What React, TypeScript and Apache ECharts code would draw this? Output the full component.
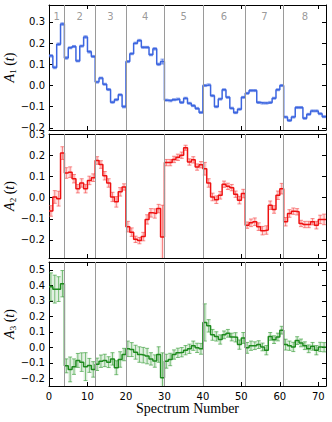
import React, { useEffect, useRef } from "react";
import * as echarts from "echarts";

// ---- data ----
const X_MIN = 0;
const X_MAX = 72;
const X_INTERVAL = 10;
const SEPARATORS = [4, 12, 20, 30, 40, 51, 61];
const SEGMENT_LABELS = ["1", "2", "3", "4", "5", "6", "7", "8"];

const A1 = [
  0.14, 0.085, 0.195, 0.29,
  0.13, 0.178, 0.184, 0.116, 0.186, 0.229, 0.159, 0.137,
  0.016, 0.035, 0.006, -0.019, -0.079, -0.067, -0.044, -0.1,
  0.113, 0.15, 0.2, 0.213, 0.18, 0.18, 0.145, 0.173, 0.1, 0.113,
  -0.069, -0.072, -0.067, -0.064, -0.08, -0.06, -0.084, -0.095, -0.108, -0.127,
  0.0, 0.003, -0.048, -0.1, -0.064, -0.02, -0.056, -0.107, -0.128, -0.112, -0.056,
  -0.037, -0.024, -0.024, -0.08, -0.083, -0.083, -0.08, -0.06, -0.02, 0.0,
  -0.149, -0.165, -0.149, -0.104, -0.104, -0.155, -0.136, -0.12, -0.12, -0.133, -0.147,
];
const A1_ERR = [
  0.006, 0.006, 0.006, 0.006,
  0.006, 0.005, 0.005, 0.005, 0.005, 0.006, 0.006, 0.005,
  0.005, 0.005, 0.005, 0.005, 0.005, 0.005, 0.005, 0.006,
  0.005, 0.005, 0.005, 0.005, 0.005, 0.005, 0.005, 0.006, 0.006, 0.012,
  0.005, 0.005, 0.005, 0.005, 0.005, 0.005, 0.005, 0.005, 0.005, 0.005,
  0.005, 0.005, 0.005, 0.005, 0.005, 0.005, 0.005, 0.005, 0.005, 0.005, 0.005,
  0.005, 0.005, 0.005, 0.005, 0.005, 0.005, 0.005, 0.005, 0.005, 0.005,
  0.005, 0.005, 0.005, 0.005, 0.005, 0.005, 0.005, 0.005, 0.005, 0.005, 0.005,
];

const A2 = [
  -0.063, 0.003, -0.005, 0.21,
  0.116, 0.12, 0.089, 0.042, 0.069, 0.042, 0.081, 0.094,
  0.175, 0.156, 0.103, 0.069, 0.003, -0.02, 0.027, 0.05,
  -0.137, -0.163, -0.197, -0.203, -0.184, -0.103, -0.072, -0.075, -0.052, -0.186,
  0.165, 0.165, 0.18, 0.19, 0.2, 0.235, 0.168, 0.178, 0.144, 0.155,
  0.136, 0.069, 0.003, -0.01, 0.011, 0.063, 0.053, 0.047, 0.016, -0.012, 0.019,
  -0.13, -0.119, -0.114, -0.137, -0.156, -0.153, -0.036, -0.056, 0.011, 0.042,
  -0.114, -0.075, -0.064, -0.067, -0.122, -0.127, -0.127, -0.114, -0.13, -0.103, -0.103,
];
const A2_ERR = [
  0.025, 0.03, 0.035, 0.03,
  0.025, 0.025, 0.02, 0.02, 0.02, 0.02, 0.02, 0.018,
  0.018, 0.018, 0.02, 0.02, 0.022, 0.025, 0.02, 0.015,
  0.025, 0.02, 0.015, 0.015, 0.02, 0.022, 0.02, 0.022, 0.02, 0.15,
  0.015, 0.015, 0.015, 0.015, 0.015, 0.012, 0.015, 0.015, 0.015, 0.015,
  0.03, 0.02, 0.018, 0.018, 0.018, 0.015, 0.015, 0.015, 0.015, 0.018, 0.02,
  0.015, 0.018, 0.018, 0.018, 0.02, 0.02, 0.02, 0.018, 0.02, 0.025,
  0.02, 0.018, 0.015, 0.015, 0.015, 0.015, 0.015, 0.015, 0.018, 0.02, 0.025,
];

const A3 = [
  0.39, 0.375, 0.375, 0.41,
  -0.12, -0.143, -0.125, -0.085, -0.096, -0.125, -0.117, -0.143,
  -0.11, -0.09, -0.085, -0.096, -0.075, -0.132, -0.079, -0.047,
  -0.01, -0.015, -0.032, -0.047, -0.051, -0.057, -0.075, -0.089, -0.047, -0.196,
  -0.09, -0.079, -0.047, -0.036, -0.032, -0.019, -0.01, 0.01, -0.004, -0.01,
  0.16, 0.138, 0.08, 0.07, 0.05, 0.08, 0.09, 0.066, 0.064, 0.017, 0.06,
  -0.004, 0.01, 0.01, 0.017, 0.002, -0.019, 0.07, 0.049, 0.066, 0.11,
  0.017, 0.01, 0.002, 0.043, 0.028, 0.01, -0.01, 0.006, -0.019, 0.002, 0.0,
];
const A3_ERR = [
  0.09, 0.09, 0.08, 0.085,
  0.045, 0.08, 0.05, 0.045, 0.06, 0.09, 0.045, 0.05,
  0.04, 0.04, 0.04, 0.035, 0.04, 0.045, 0.05, 0.04,
  0.05, 0.045, 0.045, 0.05, 0.05, 0.05, 0.04, 0.04, 0.05, 0.16,
  0.045, 0.04, 0.03, 0.03, 0.03, 0.03, 0.03, 0.03, 0.03, 0.035,
  0.12, 0.04, 0.035, 0.03, 0.03, 0.025, 0.025, 0.025, 0.03, 0.03, 0.035,
  0.035, 0.03, 0.025, 0.025, 0.025, 0.03, 0.025, 0.025, 0.025, 0.025,
  0.035, 0.03, 0.03, 0.025, 0.025, 0.025, 0.025, 0.025, 0.03, 0.03, 0.03,
];

const Y_RANGES = [
  [-0.21, 0.38],
  [-0.285, 0.3],
  [-0.25, 0.55],
];
const Y_SPLITS = [6, 6, 8];
const Y_NAMES = ["1", "2", "3"];

// ---- styles ----
const PANELS = [
  { line: "#3d66e0", band: "rgba(65,105,225,0.3)", bar: "rgba(65,105,225,0.5)" },
  { line: "#ee1111", band: "rgba(255,40,40,0.14)", bar: "rgba(245,70,70,0.6)" },
  { line: "#1d8a1d", band: "rgba(40,150,40,0.14)", bar: "rgba(60,160,60,0.65)" },
];
const GRIDS = [
  { left: 49, width: 277, top: 5, height: 125, outerBoundsMode: "none", containLabel: false },
  { left: 49, width: 277, top: 134, height: 124, outerBoundsMode: "none", containLabel: false },
  { left: 49, width: 277, top: 262, height: 124, outerBoundsMode: "none", containLabel: false },
];
const TICK_FONT = "DejaVu Sans";
const SERIF = "Liberation Serif";

function fmt(v: number) {
  if (Math.abs(v) < 1e-9) return "0.0";
  return v.toFixed(1).replace("-", "\u2212");
}

function errorRenderer(band: string, bar: string) {
  return (params: any, api: any) => {
    const t = api.value(0);
    const v = api.value(1);
    const e = api.value(2);
    const p0 = api.coord([t, v + e]);
    const p1 = api.coord([t + 1, v - e]);
    const cs = params.coordSys;
    const xL = p0[0];
    const xR = p1[0];
    const yT = p0[1];
    const yB = p1[1];
    const xc = (xL + xR) / 2;
    const top = cs.y;
    const bot = cs.y + cs.height;
    const children: any[] = [];
    const rect = echarts.graphic.clipRectByRect(
      { x: xL, y: yT, width: xR - xL, height: yB - yT },
      { x: cs.x, y: cs.y, width: cs.width, height: cs.height }
    );
    if (rect) children.push({ type: "rect", shape: rect, style: { fill: band } });
    const y1 = Math.max(yT, top);
    const y2 = Math.min(yB, bot);
    if (y2 > y1)
      children.push({ type: "line", shape: { x1: xc, y1, x2: xc, y2 }, style: { stroke: bar, lineWidth: 1 } });
    if (yT >= top)
      children.push({ type: "line", shape: { x1: xc - 2, y1: yT, x2: xc + 2, y2: yT }, style: { stroke: bar, lineWidth: 1 } });
    if (yB <= bot)
      children.push({ type: "line", shape: { x1: xc - 2, y1: yB, x2: xc + 2, y2: yB }, style: { stroke: bar, lineWidth: 1 } });
    return { type: "group", children };
  };
}

export default function App() {
  const ref = useRef<HTMLDivElement>(null);

  useEffect(() => {
    document.body.style.margin = "0";
    if (!ref.current) return;
    const chart = echarts.init(ref.current, null, { renderer: "svg" });

    const values = [A1, A2, A3];
    const errs = [A1_ERR, A2_ERR, A3_ERR];

    const axisLineStyle = { color: "#000", width: 1 };
    const xAxes: any[] = [];
    const yAxes: any[] = [];
    const series: any[] = [];

    GRIDS.forEach((_, g) => {
      const isLast = g === GRIDS.length - 1;
      xAxes.push({
        type: "value",
        gridIndex: g,
        min: X_MIN,
        max: X_MAX,
        interval: X_INTERVAL,
        position: "bottom",
        axisLine: { show: true, onZero: false, lineStyle: axisLineStyle },
        axisTick: { show: true, inside: true, length: 4, lineStyle: axisLineStyle },
        axisLabel: {
          show: isLast,
          color: "#000",
          fontFamily: TICK_FONT,
          fontSize: 10,
          margin: 5,
          showMaxLabel: false,
        },
        splitLine: { show: false },
        name: isLast ? "Spectrum Number" : "",
        nameLocation: "middle",
        nameGap: 15,
        nameMoveOverlap: false,
        nameTextStyle: { fontFamily: SERIF, fontSize: 14, color: "#000", verticalAlign: "top" },
      });
      xAxes.push({
        type: "value",
        gridIndex: g,
        min: X_MIN,
        max: X_MAX,
        interval: X_INTERVAL,
        position: "top",
        axisLine: { show: true, onZero: false, lineStyle: axisLineStyle },
        axisTick: { show: true, inside: true, length: 4, lineStyle: axisLineStyle },
        axisLabel: { show: false },
        splitLine: { show: false },
      });
      const [ymin, ymax] = Y_RANGES[g];
      yAxes.push({
        type: "value",
        gridIndex: g,
        min: ymin,
        max: ymax,
        splitNumber: Y_SPLITS[g],
        position: "left",
        axisLine: { show: true, onZero: false, lineStyle: axisLineStyle },
        axisTick: { show: true, inside: true, length: 4, lineStyle: axisLineStyle },
        axisLabel: {
          color: "#000",
          fontFamily: TICK_FONT,
          fontSize: 10,
          margin: 4,
          formatter: fmt,
          showMinLabel: false,
          showMaxLabel: g === 1,
        },
        splitLine: { show: false },
        name: `{a|A}{s|${Y_NAMES[g]}}{p| (}{a|t}{p|)}`,
        nameLocation: "middle",
        nameGap: 32,
        nameMoveOverlap: false,
        nameTextStyle: {
          rich: {
            a: { fontFamily: SERIF, fontStyle: "italic", fontSize: 14, lineHeight: 16, color: "#000" },
            s: { fontFamily: SERIF, fontSize: 9, lineHeight: 10, verticalAlign: "bottom", color: "#000" },
            p: { fontFamily: SERIF, fontSize: 14, lineHeight: 16, color: "#000" },
          },
        },
      });
      yAxes.push({
        type: "value",
        gridIndex: g,
        min: ymin,
        max: ymax,
        splitNumber: Y_SPLITS[g],
        position: "right",
        axisLine: { show: true, onZero: false, lineStyle: axisLineStyle },
        axisTick: { show: true, inside: true, length: 4, lineStyle: axisLineStyle },
        axisLabel: { show: false },
        splitLine: { show: false },
      });

      const vals = values[g];
      const err = errs[g];
      const style = PANELS[g];
      series.push({
        type: "custom",
        xAxisIndex: g * 2,
        yAxisIndex: g * 2,
        z: 2,
        silent: true,
        renderItem: errorRenderer(style.band, style.bar),
        encode: { x: 0, y: 1 },
        data: vals.map((v, i) => [i, v, err[i]]),
        markLine: {
          silent: true,
          symbol: ["none", "none"],
          label: { show: false },
          lineStyle: { color: "#9a9a9a", width: 1, type: "solid" },
          data: SEPARATORS.map((x) => ({ xAxis: x })),
        },
      });
      const lineData = vals.map((v, i) => [i, v]);
      lineData.push([vals.length, vals[vals.length - 1]]);
      series.push({
        type: "line",
        xAxisIndex: g * 2,
        yAxisIndex: g * 2,
        z: 3,
        step: "end",
        symbol: "none",
        silent: true,
        lineStyle: { color: style.line, width: 1.5 },
        data: lineData,
      });
    });

    // segment number labels in the top panel
    const bounds = [X_MIN, ...SEPARATORS, X_MAX];
    series.push({
      type: "scatter",
      xAxisIndex: 0,
      yAxisIndex: 0,
      symbolSize: 0,
      silent: true,
      z: 4,
      label: {
        show: true,
        position: "bottom",
        distance: 6,
        formatter: (p: any) => p.name,
        color: "#808080",
        fontFamily: TICK_FONT,
        fontSize: 10,
      },
      data: SEGMENT_LABELS.map((name, k) => ({
        name,
        value: [(bounds[k] + bounds[k + 1]) / 2, Y_RANGES[0][1]],
      })),
    });

    chart.setOption({
      animation: false,
      backgroundColor: "#fff",
      grid: GRIDS,
      xAxis: xAxes,
      yAxis: yAxes,
      series,
    });

    return () => chart.dispose();
  }, []);

  return (
    <div
      ref={ref}
      style={{ position: "fixed", left: 0, top: 0, width: 332, height: 422 }}
    />
  );
}
